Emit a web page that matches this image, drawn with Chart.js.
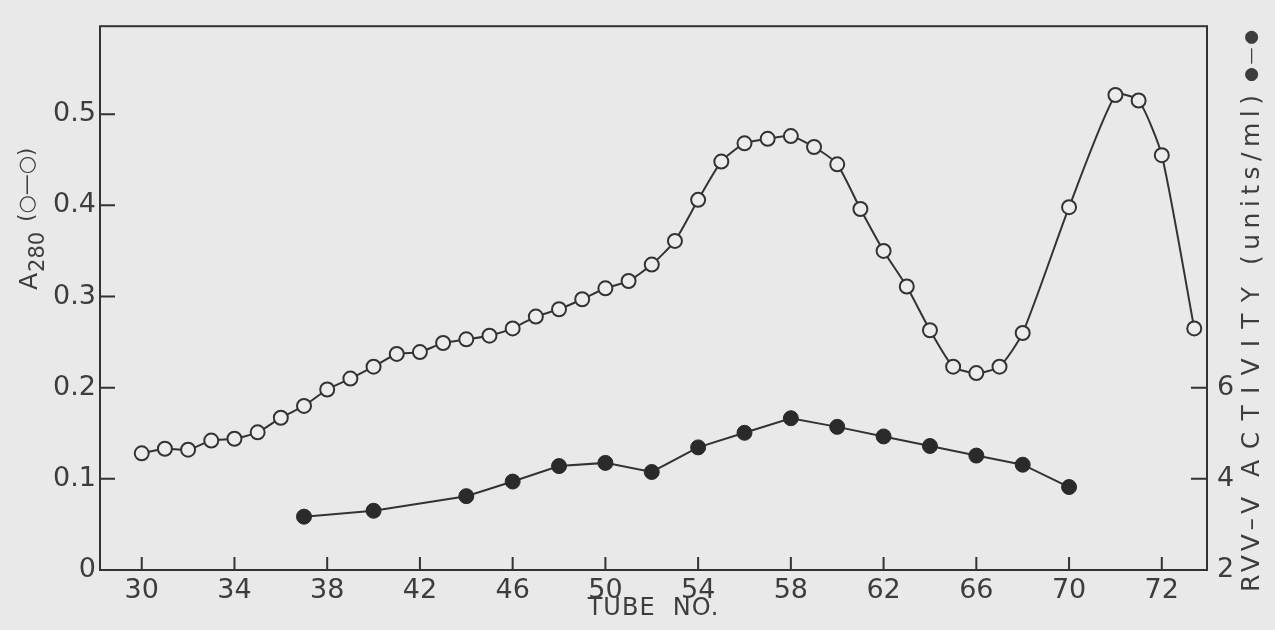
<!DOCTYPE html>
<html>
<head>
<meta charset="utf-8">
<script src="https://cdn.jsdelivr.net/npm/chart.js@4.4.1/dist/chart.umd.min.js"></script>
<style>
  body { margin: 0; background: #e9e9e9; }
  #chart { display: block; }
</style>
</head>
<body>
<canvas id="chart" width="1275" height="630"></canvas>
<script>
// A280 of each fraction (open circles)
const absTubes = [30, 31, 32, 33, 34, 35, 36, 37, 38, 39, 40, 41, 42, 43, 44, 45, 46, 47, 48, 49,
  50, 51, 52, 53, 54, 55, 56, 57, 58, 59, 60, 61, 62, 63, 64, 65, 66, 67, 68, 70, 72, 73, 74, 75.4];
const absValues = [0.128, 0.133, 0.132, 0.142, 0.144, 0.151, 0.167, 0.180, 0.198, 0.210,
  0.223, 0.237, 0.239, 0.249, 0.253, 0.257, 0.265, 0.278, 0.286, 0.297,
  0.309, 0.317, 0.335, 0.361, 0.406, 0.448, 0.468, 0.473, 0.476, 0.464,
  0.445, 0.396, 0.350, 0.311, 0.263, 0.223, 0.216, 0.223, 0.260, 0.398,
  0.521, 0.515, 0.455, 0.265];

// RVV-V activity, units/ml (filled circles)
const actTubes = [37, 40, 44, 46, 48, 50, 52, 54, 56, 58, 60, 62, 64, 66, 68, 70];
const actValues = [3.17, 3.30, 3.62, 3.94, 4.28, 4.35, 4.15, 4.69, 5.01, 5.33, 5.14, 4.93, 4.72, 4.51, 4.31, 3.82];

// axis ticks
const xTickTubes = [30, 34, 38, 42, 46, 50, 54, 58, 62, 66, 70, 74];
const xTickLabels = ['30', '34', '38', '42', '46', '50', '54', '58', '62', '66', '70', '72'];
const leftTicks = [0, 0.1, 0.2, 0.3, 0.4, 0.5];
const leftTickLabels = ['0', '0.1', '0.2', '0.3', '0.4', '0.5'];
const rightTicks = [2, 4, 6];

const ink = '#333333';
const textInk = '#3d3d3d';
const face = "'DejaVu Sans', 'Liberation Sans', sans-serif";
const A_MAX = 0.5965;

// writes text along a rotated baseline, spreading the letters to fill `span`
function spreadText(ctx, text, x, span) {
  ctx.letterSpacing = '0px';
  const w0 = ctx.measureText(text).width;
  const gap = text.length > 1 ? (span - w0) / (text.length - 1) : 0;
  ctx.letterSpacing = Math.max(0, gap).toFixed(2) + 'px';
  ctx.fillText(text, x, 0);
  ctx.letterSpacing = '0px';
}

// box round the plot, inward tick marks and the axis titles
const frame = {
  id: 'frame',
  afterDraw(chart) {
    const { ctx, chartArea: a, scales } = chart;
    ctx.save();
    ctx.strokeStyle = ink;
    ctx.lineWidth = 2;
    ctx.strokeRect(a.left, a.top, a.right - a.left, a.bottom - a.top);

    ctx.beginPath();
    scales.x.ticks.forEach(t => {
      const px = scales.x.getPixelForValue(t.value);
      ctx.moveTo(px, a.bottom);
      ctx.lineTo(px, a.bottom - 13);
    });
    scales.y.ticks.forEach(t => {
      if (t.value === 0) return;
      const py = scales.y.getPixelForValue(t.value);
      ctx.moveTo(a.left, py);
      ctx.lineTo(a.left + 15, py);
    });
    scales.y2.ticks.forEach(t => {
      if (t.value === 2) return;
      const py = scales.y2.getPixelForValue(t.value);
      ctx.moveTo(a.right, py);
      ctx.lineTo(a.right - 16, py);
    });
    ctx.stroke();

    ctx.fillStyle = textInk;
    ctx.textBaseline = 'middle';

    // x title
    ctx.save();
    ctx.textAlign = 'center';
    ctx.font = '24px ' + face;
    ctx.letterSpacing = '1px';
    ctx.fillText('TUBE  NO.', (a.left + a.right) / 2, 609);
    ctx.restore();

    // left title: A280 (o-o)
    ctx.save();
    ctx.translate(30, 290);
    ctx.rotate(-Math.PI / 2);
    ctx.textAlign = 'left';
    ctx.font = '25px ' + face;
    ctx.fillText('A', 0, 0);
    let off = ctx.measureText('A').width + 1;
    ctx.font = '21px ' + face;
    ctx.fillText('280', off, 9);
    off += ctx.measureText('280').width + 10;
    ctx.fillText('(○—○)', off, -2);
    ctx.restore();

    // right title, reading upwards
    ctx.save();
    ctx.translate(1252, 592);
    ctx.rotate(-Math.PI / 2);
    ctx.textAlign = 'left';
    ctx.font = '25px ' + face;
    spreadText(ctx, 'RVV–V', 0, 95);
    spreadText(ctx, 'ACTIVITY', 115, 190);
    spreadText(ctx, '(units/ml)', 327, 170);
    ctx.font = '17px ' + face;
    spreadText(ctx, '●—●', 510, 52);
    ctx.restore();

    ctx.restore();
  }
};

new Chart(document.getElementById('chart'), {
  type: 'line',
  data: {
    datasets: [
      {
        label: 'A280',
        data: absTubes.map((t, i) => ({ x: t, y: absValues[i] })),
        yAxisID: 'y',
        borderColor: ink,
        borderWidth: 2,
        tension: 0.2,
        pointRadius: 7,
        pointBackgroundColor: '#ececec',
        pointBorderColor: ink,
        pointBorderWidth: 2
      },
      {
        label: 'RVV-V activity',
        data: actTubes.map((t, i) => ({ x: t, y: actValues[i] })),
        yAxisID: 'y2',
        borderColor: ink,
        borderWidth: 2,
        tension: 0,
        pointRadius: 7.5,
        pointBackgroundColor: '#2a2a2a',
        pointBorderColor: '#2a2a2a',
        pointBorderWidth: 1
      }
    ]
  },
  options: {
    responsive: false,
    animation: false,
    layout: { padding: { top: 12, left: 0, right: 0, bottom: 0 } },
    plugins: {
      legend: { display: false },
      tooltip: { enabled: false }
    },
    scales: {
      x: {
        type: 'linear',
        min: 28.2,
        max: 75.95,
        grid: { display: false, drawTicks: false },
        border: { display: false },
        afterBuildTicks: s => { s.ticks = xTickTubes.map(v => ({ value: v })); },
        afterFit: s => { s.height = 60; },
        ticks: {
          padding: 5,
          color: textInk,
          font: { family: face, size: 27 },
          callback: v => xTickLabels[xTickTubes.indexOf(v)]
        }
      },
      y: {
        position: 'left',
        min: 0,
        max: A_MAX,
        grid: { display: false, drawTicks: false },
        border: { display: false },
        afterBuildTicks: s => { s.ticks = leftTicks.map(v => ({ value: v })); },
        afterFit: s => { s.width = 100; },
        ticks: {
          padding: 4,
          color: textInk,
          font: { family: face, size: 27 },
          callback: v => leftTickLabels[leftTicks.indexOf(v)]
        }
      },
      y2: {
        position: 'right',
        min: 2,
        max: 2 + 20 * A_MAX,
        grid: { display: false, drawTicks: false },
        border: { display: false },
        afterBuildTicks: s => { s.ticks = rightTicks.map(v => ({ value: v })); },
        afterFit: s => { s.width = 68; },
        ticks: {
          padding: 10,
          color: textInk,
          font: { family: face, size: 27 },
          callback: v => String(v)
        }
      }
    }
  },
  plugins: [frame]
});
</script>
</body>
</html>
